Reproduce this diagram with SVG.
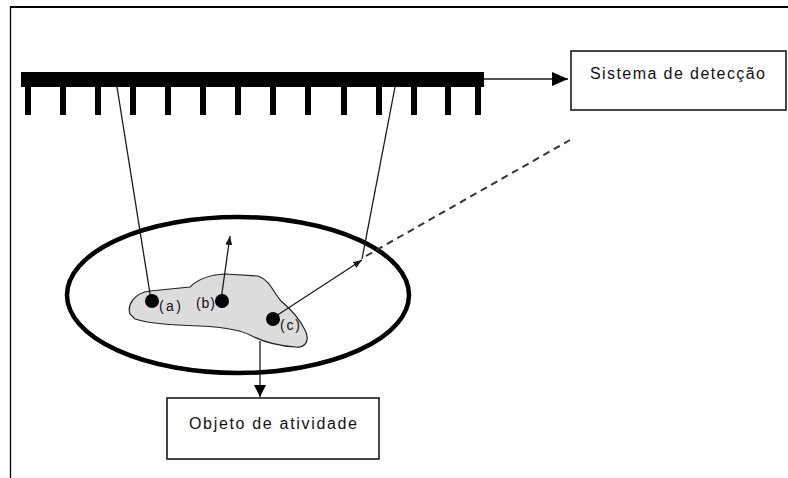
<svg xmlns="http://www.w3.org/2000/svg" width="788" height="478" viewBox="0 0 788 478">
<style>
.box{fill:#fff;stroke:#1a1a1a;stroke-width:1.6}
.lbl{font-family:"Liberation Sans",Arial,sans-serif;font-size:16px;fill:#111}
.pt{font-family:"Liberation Sans",Arial,sans-serif;font-size:14px;fill:#111}
.ln{stroke:#1a1a1a;stroke-width:1.3;fill:none}
.tooth{fill:#000}
</style>
<defs>
<marker id="big" markerUnits="userSpaceOnUse" markerWidth="16" markerHeight="14" viewBox="0 0 16 14" refX="16" refY="7" orient="auto">
<path d="M0,0 L16,7 L0,14 Z" fill="#000"/>
</marker>
<marker id="down" markerUnits="userSpaceOnUse" markerWidth="12" markerHeight="12" viewBox="0 0 12 12" refX="12" refY="6" orient="auto">
<path d="M0,0 L12,6 L0,12 Z" fill="#000"/>
</marker>
<marker id="small" markerUnits="userSpaceOnUse" markerWidth="9" markerHeight="7" viewBox="0 0 9 7" refX="9" refY="3.5" orient="auto">
<path d="M0,0 L9,3.5 L0,7 Z" fill="#1a1a1a"/>
</marker>
</defs>
<rect width="788" height="478" fill="#fff"/>
<g id="frame">
<line x1="10" y1="7" x2="788" y2="7" stroke="#000" stroke-width="2"/>
<line x1="10.5" y1="6" x2="10.5" y2="478" stroke="#000" stroke-width="1.3"/>
</g>
<g id="detector">
<rect x="21" y="72" width="463" height="15" fill="#000"/>
<rect class="tooth" x="25" y="86" width="6" height="29"/>
<rect class="tooth" x="60" y="86" width="6" height="29"/>
<rect class="tooth" x="95" y="86" width="6" height="29"/>
<rect class="tooth" x="130" y="86" width="6" height="29"/>
<rect class="tooth" x="165" y="86" width="6" height="29"/>
<rect class="tooth" x="200" y="86" width="6" height="29"/>
<rect class="tooth" x="235" y="86" width="6" height="29"/>
<rect class="tooth" x="270" y="86" width="6" height="29"/>
<rect class="tooth" x="305" y="86" width="6" height="29"/>
<rect class="tooth" x="341" y="86" width="6" height="29"/>
<rect class="tooth" x="376" y="86" width="6" height="29"/>
<rect class="tooth" x="411" y="86" width="6" height="29"/>
<rect class="tooth" x="445" y="86" width="6" height="29"/>
<rect class="tooth" x="475" y="86" width="6" height="29"/>
</g>
<g id="sistema">
<rect class="box" x="571" y="51" width="215" height="59"/>
<text class="lbl" x="590" y="79" textLength="175" lengthAdjust="spacing">Sistema de detecção</text>
</g>
<g id="objeto">
<rect class="box" x="167" y="398" width="212" height="61"/>
<text class="lbl" x="189" y="429" textLength="168" lengthAdjust="spacing">Objeto de atividade</text>
</g>
<g id="campo">
<ellipse cx="238" cy="295" rx="171" ry="78" fill="none" stroke="#000" stroke-width="4.5"/>
</g>
<g id="objeto-atividade">
<path d="M130,314 C127,305 134,293 150,291 L190,287 C196,281 205,275 225,274 L258,276 C270,280 273,292 281,301 C292,310 300,320 305,330 C310,340 306,348 296,347 C280,346 266,343 252,336 C240,329 220,327 200,326 C175,325 150,324 135,319 Z" fill="#dcdcdc" stroke="#222" stroke-width="1.2"/>
</g>
<g id="connectors">
<line class="ln" x1="484" y1="79" x2="568" y2="79" marker-end="url(#big)" stroke-width="1.6"/>
<line class="ln" x1="260" y1="341" x2="260" y2="397" marker-end="url(#down)" stroke-width="1.6"/>
<line class="ln" x1="117" y1="87" x2="151" y2="300"/>
<line class="ln" x1="395" y1="87" x2="362" y2="259"/>
<line class="ln" x1="221" y1="300" x2="230" y2="236" marker-end="url(#small)"/>
<line class="ln" x1="276" y1="316" x2="362" y2="260" marker-end="url(#small)"/>
<line x1="366" y1="256" x2="570" y2="140" stroke="#333" stroke-width="2" stroke-dasharray="7,5"/>
</g>
<g id="pontos">
<circle cx="152" cy="301" r="7" fill="#000"/>
<circle cx="222" cy="301" r="7" fill="#000"/>
<circle cx="273" cy="319" r="7" fill="#000"/>
<text class="pt" x="159" y="311" textLength="22" lengthAdjust="spacing">(a)</text>
<text class="pt" x="196" y="308" textLength="19" lengthAdjust="spacing">(b)</text>
<text class="pt" x="280" y="330" textLength="20" lengthAdjust="spacing">(c)</text>
</g>
</svg>
